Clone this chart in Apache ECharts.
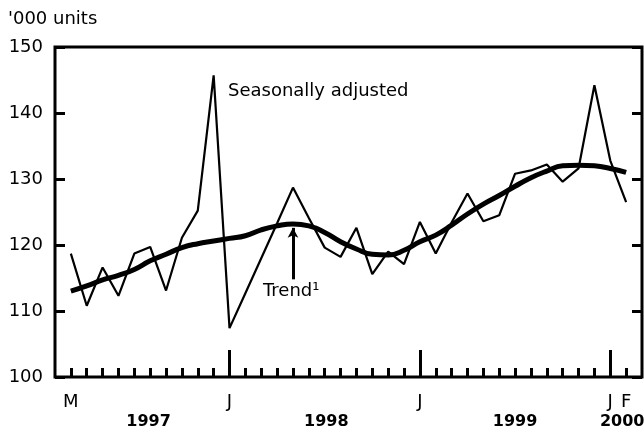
<!DOCTYPE html>
<html>
<head>
<meta charset="utf-8">
<script src="https://cdn.jsdelivr.net/npm/echarts@6/dist/echarts.min.js"></script>
<style>
  html, body { margin: 0; padding: 0; background: #fff; }
  #chart { width: 644px; height: 433px; }
</style>
</head>
<body>
<div id="chart"></div>
<script>
// months, Mar 1997 .. Feb 2000
var months = [
  '1997-03','1997-04','1997-05','1997-06','1997-07','1997-08','1997-09','1997-10','1997-11','1997-12',
  '1998-01','1998-02','1998-03','1998-04','1998-05','1998-06','1998-07','1998-08','1998-09','1998-10','1998-11','1998-12',
  '1999-01','1999-02','1999-03','1999-04','1999-05','1999-06','1999-07','1999-08','1999-09','1999-10','1999-11','1999-12',
  '2000-01','2000-02'
];
// '000 units
var seasAdj = [
  118.7, 110.8, 116.6, 112.3, 118.7, 119.7, 113.1, 121.1, 125.2, 145.7,
  107.4, 112.7, 118.0, 123.3, 128.7, 124.1, 119.6, 118.2, 122.6, 115.6, 119.0, 117.1,
  123.5, 118.7, 123.4, 127.8, 123.6, 124.5, 130.8, 131.3, 132.2, 129.6, 131.6, 144.2,
  132.8, 126.5
];
var trend = [
  113.0, 113.8, 114.7, 115.4, 116.3, 117.6, 118.6, 119.6, 120.2, 120.6,
  121.0, 121.4, 122.3, 122.9, 123.2, 122.9, 121.9, 120.5, 119.4, 118.6, 118.5, 119.2,
  120.5, 121.5, 123.0, 124.7, 126.2, 127.5, 128.9, 130.2, 131.2, 132.0, 132.1, 132.0,
  131.6, 131.0
];
// tick labels
var monthLabelIdx = [0, 10, 22, 34, 35];
var monthLabelText = ['M', 'J', 'J', 'J', 'F'];
var majorTickIdx = [10, 22, 34];
var yearLabelPos = [4.9, 16.1, 28.0, 34.75];
var yearLabelText = ['1997', '1998', '1999', '2000'];

// the source type is wide, DejaVu matches its widths best
var FONT = 'DejaVu Sans, Liberation Sans, sans-serif';

var idx = months.map(function (m, i) { return i; });
function pairs(arr) {
  return arr.map(function (v, i) { return [i, v]; });
}

var chart = echarts.init(document.getElementById('chart'));

var baseX = {
  type: 'value',
  gridIndex: 0,
  position: 'bottom',
  offset: 0,
  min: -1,
  max: 36,
  interval: 1,
  axisLine: { show: false, onZero: false },
  splitLine: { show: false }
};

var baseY = {
  type: 'value',
  min: 100,
  max: 150,
  interval: 10,
  offset: 0,
  // keep y axes on the frame, not at x = 0
  axisLine: { show: false, onZero: false },
  splitLine: { show: false },
  axisTick: { show: true, inside: true, length: 10, lineStyle: { color: '#000', width: 3 } }
};

chart.setOption({
  animation: false,
  grid: {
    left: 55, right: 2, top: 47, bottom: 56,
    outerBoundsMode: 'none',
    containLabel: false,
    show: true,
    borderColor: '#000',
    borderWidth: 3
  },
  xAxis: [
    // monthly minor ticks
    Object.assign({}, baseX, {
      axisTick: { show: true, inside: true, length: 9, lineStyle: { color: '#000', width: 3 }, customValues: idx },
      axisLabel: { show: false }
    }),
    // January major ticks and month letters
    Object.assign({}, baseX, {
      axisTick: { show: true, inside: true, length: 27, lineStyle: { color: '#000', width: 3 }, customValues: majorTickIdx },
      axisLabel: {
        show: true, margin: 16, color: '#000', fontSize: 18, fontFamily: FONT,
        customValues: monthLabelIdx,
        formatter: function (v) { return monthLabelText[monthLabelIdx.indexOf(v)]; }
      }
    }),
    // year labels
    Object.assign({}, baseX, {
      axisTick: { show: false },
      axisLabel: {
        show: true, margin: 37, color: '#000', fontSize: 16, fontWeight: 'bold', fontFamily: FONT,
        customValues: yearLabelPos,
        formatter: function (v) { return yearLabelText[yearLabelPos.indexOf(v)]; }
      }
    })
  ],
  yAxis: [
    Object.assign({}, baseY, {
      position: 'left',
      axisLabel: { color: '#000', fontSize: 18, fontFamily: FONT, margin: 12, padding: [4, 0, 0, 0] }
    }),
    Object.assign({}, baseY, {
      position: 'right',
      axisLabel: { show: false }
    })
  ],
  series: [
    {
      name: 'Seasonally adjusted',
      type: 'line',
      data: pairs(seasAdj),
      showSymbol: false,
      lineStyle: { color: '#000', width: 2.2 },
      z: 3
    },
    {
      name: 'Trend',
      type: 'line',
      data: pairs(trend),
      smooth: 0.5,
      showSymbol: false,
      lineStyle: { color: '#000', width: 5 },
      z: 4,
      markLine: {
        silent: true,
        symbol: ['none', 'arrow'],
        symbolSize: [8, 10],
        label: { show: false },
        lineStyle: { color: '#000', width: 3, type: 'solid' },
        data: [[{ coord: [14, 114.8] }, { coord: [14, 122.6] }]]
      }
    }
  ],
  graphic: [
    { type: 'text', left: 8, top: 10, style: { text: "'000 units", fill: '#000', font: '18px ' + FONT } },
    { type: 'text', left: 228, top: 82, style: { text: 'Seasonally adjusted', fill: '#000', font: '18px ' + FONT } },
    { type: 'text', left: 263, top: 282, style: { text: 'Trend\u00B9', fill: '#000', font: '18px ' + FONT } }
  ]
});
</script>
</body>
</html>
